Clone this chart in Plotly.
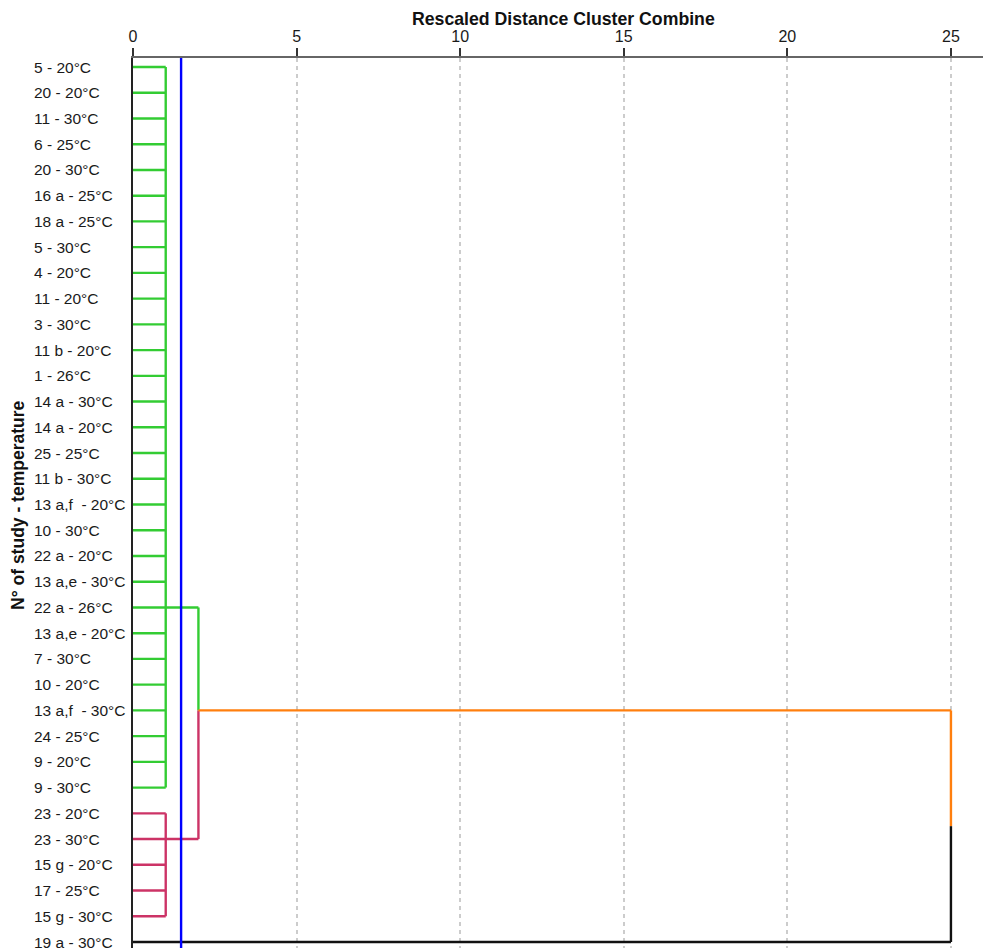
import plotly.graph_objects as go

leaves = [
    "5 - 20°C", "20 - 20°C", "11 - 30°C", "6 - 25°C", "20 - 30°C", "16 a - 25°C",
    "18 a - 25°C", "5 - 30°C", "4 - 20°C", "11 - 20°C", "3 - 30°C", "11 b - 20°C",
    "1 - 26°C", "14 a - 30°C", "14 a - 20°C", "25 - 25°C", "11 b - 30°C",
    "13 a,f  - 20°C", "10 - 30°C", "22 a - 20°C", "13 a,e - 30°C", "22 a - 26°C",
    "13 a,e - 20°C", "7 - 30°C", "10 - 20°C", "13 a,f  - 30°C", "24 - 25°C",
    "9 - 20°C", "9 - 30°C",
    "23 - 20°C", "23 - 30°C", "15 g - 20°C", "17 - 25°C", "15 g - 30°C",
    "19 a - 30°C",
]
# first-level clusters: (first row, last row)
cluster_rows = [(0, 28), (29, 33)]
cluster_heights = [1, 1]
cluster_link_rows = [21, 30]
cluster_colors = ["#33cc33", "#cc3366"]
# second merge (green + pink)
merge2_height = 2
merge2_link_row = 25
# final merge with the outlier leaf
outlier_row = 34
final_height = 25
cut_height = 1.47

FONT = "Liberation Sans, Arial, sans-serif"
LW = 2.4

fig = go.Figure()

def seg(x, y, color):
    fig.add_trace(go.Scatter(x=x, y=y, mode="lines", line=dict(color=color, width=LW),
                             hoverinfo="skip", showlegend=False))

for (r0, r1), h, lr, c in zip(cluster_rows, cluster_heights, cluster_link_rows, cluster_colors):
    for r in range(r0, r1 + 1):
        seg([0, h], [r, r], c)
    seg([h, h], [r0, r1], c)
    seg([h, merge2_height], [lr, lr], c)

seg([merge2_height, merge2_height], [cluster_link_rows[0], merge2_link_row], cluster_colors[0])
seg([merge2_height, merge2_height], [merge2_link_row, cluster_link_rows[1]], cluster_colors[1])

mid = (merge2_link_row + outlier_row) / 2
seg([merge2_height, final_height], [merge2_link_row, merge2_link_row], "#ff7f0e")
seg([final_height, final_height], [merge2_link_row, mid], "#ff7f0e")
seg([final_height, final_height], [mid, outlier_row], "#111111")
seg([0, final_height], [outlier_row, outlier_row], "#111111")

fig.add_shape(type="line", x0=cut_height, x1=cut_height, y0=0, y1=1, xref="x", yref="paper",
              line=dict(color="#0000ff", width=LW))

for i, lab in enumerate(leaves):
    fig.add_annotation(x=0, xref="paper", y=i, yref="y", text=lab, showarrow=False,
                       xanchor="left", xshift=-101,
                       font=dict(size=15.5, color="#1a1a1a", family=FONT))

fig.add_annotation(x=0, xref="paper", y=0.5, yref="paper", text="<b>N° of study - temperature</b>",
                   textangle=-90, showarrow=False, xanchor="center", xshift=-115, yshift=-2,
                   font=dict(size=17.5, color="#111111", family=FONT))

fig.add_annotation(x=0.507, xref="paper", y=1, yref="paper", yanchor="middle", yshift=39,
                   text="<b>Rescaled Distance Cluster Combine</b>", showarrow=False,
                   font=dict(size=17.7, color="#111111", family=FONT))

fig.update_layout(
    width=983, height=948,
    margin=dict(l=133, r=0, t=58, b=0),
    plot_bgcolor="white", paper_bgcolor="white",
    font=dict(family=FONT, size=15.5, color="#1a1a1a"),
    xaxis=dict(side="top", range=[0, 25.98], tickvals=[0, 5, 10, 15, 20, 25],
               showline=True, linecolor="#666666", linewidth=2, ticks="outside", ticklen=8,
               tickcolor="#333333", tickwidth=2, showgrid=True, gridcolor="#cccccc",
               griddash="4px,4px", gridwidth=2, zeroline=False,
               tickfont=dict(size=16, color="#1a1a1a")),
    yaxis=dict(range=[34.233, -0.35], showticklabels=False, showgrid=False, zeroline=False,
               showline=True, linecolor="#222222", linewidth=2, ticks=""),
)

fig.write_html("out.html")
